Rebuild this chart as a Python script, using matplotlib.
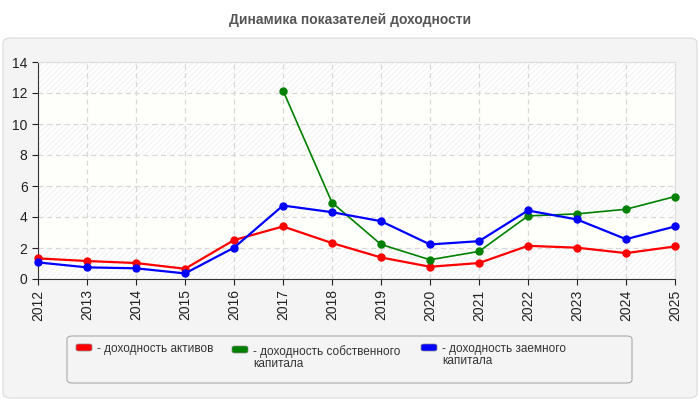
import numpy as np
import matplotlib
matplotlib.use('Agg')
import matplotlib.pyplot as plt
from matplotlib.patches import FancyBboxPatch

plt.rcParams['font.family'] = ['Liberation Sans', 'DejaVu Sans']
plt.rcParams['hatch.linewidth'] = 0.5

# data
years = list(range(2012, 2026))
assets = [1.33, 1.16, 1.03, 0.66, 2.51, 3.39, 2.32, 1.39, 0.79, 1.03, 2.14, 2.02, 1.67, 2.10]
equity = [np.nan] * 5 + [12.16, 4.93, 2.23, 1.24, 1.78, 4.07, 4.20, 4.50, 5.32]
debt = [1.07, 0.75, 0.69, 0.36, 2.02, 4.74, 4.31, 3.73, 2.23, 2.44, 4.42, 3.84, 2.57, 3.39]
names = ['- доходность активов', '- доходность собственного\nкапитала', '- доходность заемного\nкапитала']
colors = ['#ff0000', '#008000', '#0000ff']
series = [assets, equity, debt]
widths = [1.6, 1.2, 1.6]

fig = plt.figure(figsize=(7, 4), dpi=100)
fig.patch.set_facecolor('white')

# outer panel
panel = FancyBboxPatch((3 / 700, 2 / 400), 694 / 700, 360 / 400,
                       boxstyle='round,pad=0,rounding_size=0.012',
                       transform=fig.transFigure, facecolor='#f4f4f4',
                       edgecolor='#e0e0e0', linewidth=1, zorder=-5)
fig.patches.append(panel)

fig.text(0.5, 380 / 400, 'Динамика показателей доходности', ha='center', va='center',
         fontsize=10, fontweight='bold', color='#555555')

ax = fig.add_axes([38 / 700, 121 / 400, 637 / 700, 217 / 400])
ax.set_zorder(2)
ax.set_facecolor('white')

# alternating bands
for lo in range(0, 14, 2):
    if (lo // 2) % 2 == 0:
        ax.axhspan(lo, lo + 2, facecolor='white', edgecolor='#ebebeb', hatch='//////', linewidth=0, zorder=0)
    else:
        ax.axhspan(lo, lo + 2, facecolor='#fefefa', linewidth=0, zorder=0)

for s, c, w in zip(series, colors, widths):
    ax.plot(years, s, color=c, linewidth=w, marker='o', markersize=5, zorder=3, clip_on=False)

ax.set_xlim(2012, 2025)
ax.set_ylim(0, 14)
ax.set_xticks(years)
ax.set_xticklabels([str(y) for y in years], rotation=90, fontsize=10, color='#222222')
ax.set_yticks(range(0, 15, 2))
ax.tick_params(axis='y', labelsize=10, colors='#222222', length=4)
ax.tick_params(axis='x', length=4, colors='#222222')
ax.grid(True, color='#d8d8d8', linestyle=(0, (4, 3)), linewidth=0.9)
ax.set_axisbelow(True)
for side in ['top', 'right']:
    ax.spines[side].set_color('#dddddd')
for side in ['left', 'bottom']:
    ax.spines[side].set_color('#333333')

# legend box
leg = FancyBboxPatch((67 / 700, 17 / 400), 565 / 700, 47 / 400,
                     boxstyle='round,pad=0,rounding_size=0.008',
                     transform=fig.transFigure, facecolor='#f4f4f4',
                     edgecolor='#aaaaaa', linewidth=0.8, zorder=1)
fig.patches.append(leg)
xs = [76, 232, 421]
ys = [56, 54, 56]
for x0, y0, n, c in zip(xs, ys, names, colors):
    sw = FancyBboxPatch((x0 / 700, (y0 - 7) / 400), 16 / 700, 7 / 400,
                        boxstyle='round,pad=0,rounding_size=0.004',
                        transform=fig.transFigure, facecolor=c,
                        edgecolor='#888888', linewidth=0.5, zorder=2)
    fig.patches.append(sw)
    fig.text((x0 + 21) / 700, (y0 + 1) / 400, n, ha='left', va='top', fontsize=8.5,
             color='#333333', linespacing=1.0)

fig.savefig('out.png', dpi=100)
